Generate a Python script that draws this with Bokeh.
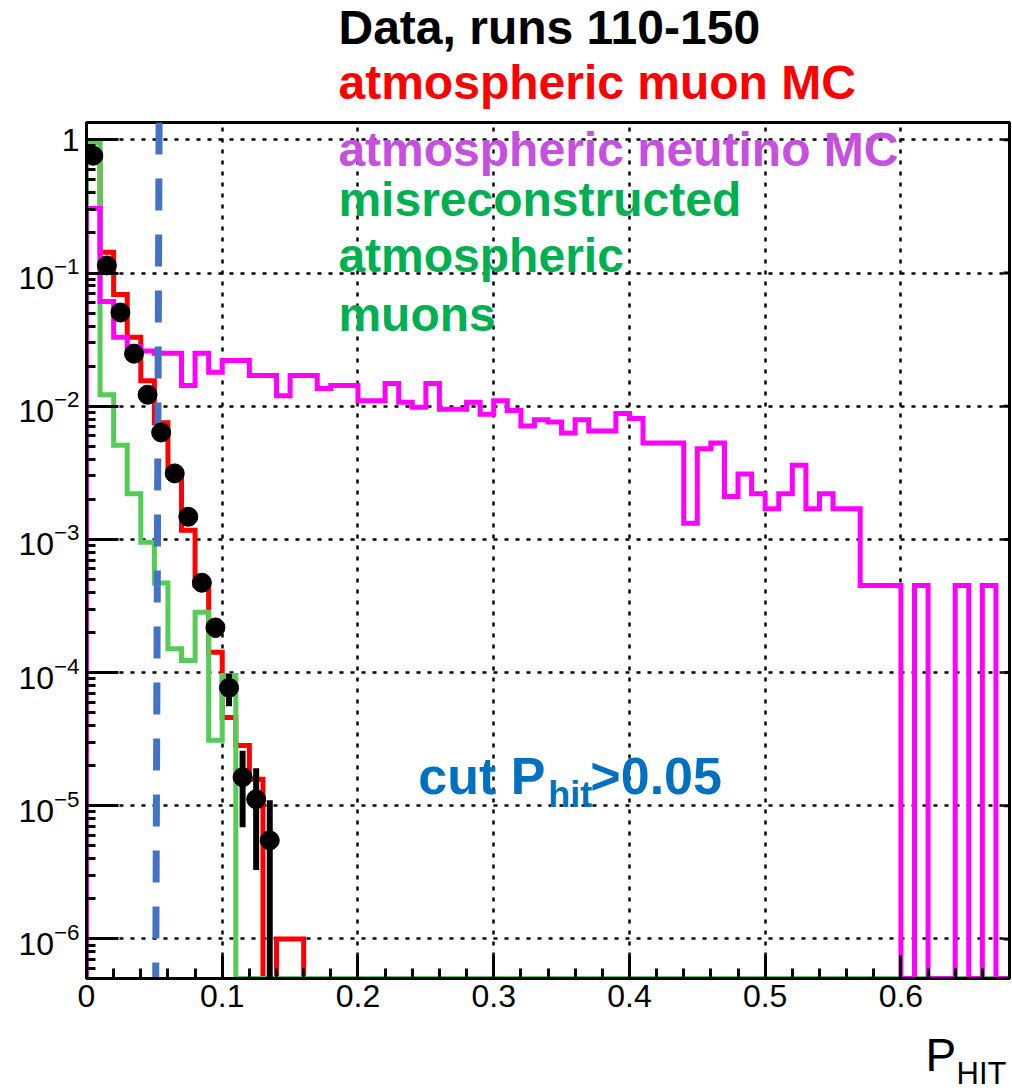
import numpy as np
from bokeh.plotting import figure
from bokeh.layouts import column
from bokeh.models import Range1d, FixedTicker, Label, LogTickFormatter
from bokeh.core.properties import value
from bokeh.embed import file_html
from bokeh.resources import INLINE

# ---------------- data ----------------
bin_edges = [round(0.01 * i, 2) for i in range(69)]  # 68 bins of width 0.01

nu_mc = [0.305, 0.061, 0.033, 0.028, 0.026, 0.025, 0.025, 0.0143, 0.025, 0.018,
         0.022, 0.022, 0.017, 0.017, 0.012, 0.017, 0.017, 0.0136, 0.0143, 0.0143,
         0.011, 0.011, 0.0148, 0.0107, 0.0098, 0.0148, 0.0095, 0.0095, 0.0107, 0.0087,
         0.011, 0.0093, 0.0071, 0.0079, 0.0076, 0.0063, 0.0079, 0.0065, 0.0065, 0.0088,
         0.0081, 0.0053, 0.0053, 0.0053, 0.00132, 0.0048, 0.0053, 0.0021, 0.0031, 0.0022,
         0.0017, 0.0022, 0.0036, 0.0017, 0.0022, 0.0017, 0.0017, 0.00045, 0.00045, 0.00045,
         0, 0.00045, 0, 0, 0.00045, 0, 0.00045, 0]

mu_mc = [0.8, 0.143, 0.069, 0.033, 0.0155, 0.0075, 0.0031, 0.00117, 0.00045, 0.000142,
         4.6e-5, 2.84e-5, 1.58e-5, 0, 1.0e-6, 1.0e-6] + [0] * 52

misreco = [0.95, 0.0122, 0.0051, 0.0022, 0.00095, 0.00047, 0.000151, 0.000123, 0.000284, 3.1e-5,
           9.5e-5] + [0] * 57

data_x = [0.005, 0.015, 0.025, 0.035, 0.045, 0.055, 0.065, 0.075, 0.085, 0.095,
          0.105, 0.115, 0.125, 0.135]
data_y = [0.76, 0.114, 0.0505, 0.0248, 0.0122, 0.00635, 0.00313, 0.00148, 0.000473, 0.000218,
          7.7e-5, 1.64e-5, 1.12e-5, 5.5e-6]
data_err = [0.002, 0.0008, 0.0005, 0.00037, 0.00026, 0.00019, 0.00013, 9e-5, 5e-5, 3.5e-5,
            2.1e-5, 9.5e-6, 7.9e-6, 5.5e-6]

cut_x = [0.0535, 0.0510]          # dashed cut line (top, bottom)

x_ticks = [0, 0.1, 0.2, 0.3, 0.4, 0.5, 0.6]
x_tick_labels = ["0", "0.1", "0.2", "0.3", "0.4", "0.5", "0.6"]
y_ticks = [1, 1e-1, 1e-2, 1e-3, 1e-4, 1e-5, 1e-6]

legend_top = ["Data, runs 110-150", "atmospheric muon MC"]
legend_top_colors = ["#000000", "#FF0000"]
legend_in = ["atmospheric neutino MC", "misreconstructed", "atmospheric", "muons"]
legend_in_colors = ["#C64FE0", "#00B050", "#00B050", "#00B050"]

X_MIN, X_MAX = 0.0, 0.68
Y_MIN, Y_MAX = 5.05e-7, 1.349
FONT = "Liberation Sans"
W = 1012
BL, BR = 86, 3          # left / right borders (frame spans BL .. W-BR)
TOP_H, BOT_H = 118, 64

# ---------------- main figure ----------------
p = figure(frame_width=W - BL - BR, frame_height=856,
           x_range=Range1d(X_MIN, X_MAX), y_range=Range1d(Y_MIN, Y_MAX),
           y_axis_type="log", output_backend="svg", toolbar_location=None,
           min_border_left=BL, min_border_right=BR, min_border_top=4, min_border_bottom=50)
p.background_fill_color = "white"
p.border_fill_color = "white"
p.outline_line_color = "black"
p.outline_line_width = 3

xa = p.xaxis[0]
xa.ticker = FixedTicker(ticks=x_ticks, minor_ticks=[round(0.02 * i, 2) for i in range(35)])
xa.major_label_overrides = {t: l for t, l in zip(x_ticks, x_tick_labels)}
xa.major_tick_in = 23
xa.major_tick_out = 0
xa.minor_tick_in = 10
xa.minor_tick_out = 0
xa.major_tick_line_width = 3
xa.minor_tick_line_width = 3
xa.axis_line_width = 3
xa.major_label_text_font = FONT
xa.major_label_text_font_size = "32px"
xa.major_label_standoff = 6
xa.major_label_text_color = "black"

minor_y = [m * 10.0 ** k for k in range(-7, 1) for m in range(2, 10)]
ya = p.yaxis[0]
ya.ticker = FixedTicker(ticks=y_ticks, minor_ticks=minor_y)
ya.formatter = LogTickFormatter(min_exponent=1)
ya.major_tick_in = 32
ya.major_tick_out = 0
ya.minor_tick_in = 9
ya.minor_tick_out = 0
ya.major_tick_line_width = 3
ya.minor_tick_line_width = 3
ya.axis_line_width = 3
ya.major_label_text_font = FONT
ya.major_label_text_font_size = "32px"
ya.major_label_standoff = 7
ya.major_label_text_color = "black"

for g in (p.xgrid[0], p.ygrid[0]):
    g.grid_line_color = "black"
    g.grid_line_dash = "4 7"
    g.grid_line_width = 2.5

# right-frame decade ticks
p.segment(x0=[X_MAX] * len(y_ticks), y0=y_ticks, x1=[X_MAX - 0.0045] * len(y_ticks), y1=y_ticks,
          line_color="black", line_width=3)


def step_path(edges, vals, floor):
    xs, ys = [edges[0]], [floor]
    for i, v in enumerate(vals):
        vv = v if v > 0 else floor
        xs += [edges[i], edges[i + 1]]
        ys += [vv, vv]
    xs.append(edges[-1])
    ys.append(floor)
    return xs, ys


for vals, col in ((mu_mc, "#FF0000"), (misreco, "#55CC55"), (nu_mc, "#FF00FF")):
    xs, ys = step_path(bin_edges, vals, Y_MIN)
    p.line(xs, ys, line_color=col, line_width=5, line_join="miter")

p.line(cut_x, [Y_MAX, Y_MIN], line_color="#4472C4", line_width=7, line_dash="32 24")

lo = [max(y - e, Y_MIN) for y, e in zip(data_y, data_err)]
hi = [y + e for y, e in zip(data_y, data_err)]
p.segment(x0=data_x, y0=lo, x1=data_x, y1=hi, line_color="black", line_width=6)
p.scatter(data_x, data_y, size=19, color="black")

# legend lines inside the frame
LEG_FS = 48
shift = 0.37 * LEG_FS
for txt, col, off in zip(legend_in, legend_in_colors, [-27.5, -77.7, -133.7, -192.7]):
    p.add_layout(Label(x=0.1856, y=1.0, y_offset=off + shift, text=txt, text_color=col,
                       text_align="left", text_baseline="alphabetic", text_font=FONT,
                       text_font_size=f"{LEG_FS}px", text_font_style="bold"))

# cut annotation
CUT_COL = "#0070C0"
p.add_layout(Label(x=0.2445, y=1e-5, y_offset=10.7 + 0.37 * 52, text="cut P", text_color=CUT_COL,
                   text_align="left", text_baseline="alphabetic", text_font=FONT,
                   text_font_size="52px", text_font_style="bold"))
p.add_layout(Label(x=0.2445, y=1e-5, x_offset=130, y_offset=-2.3 + 0.37 * 36, text="hit",
                   text_color=CUT_COL, text_align="left", text_baseline="alphabetic",
                   text_font=FONT, text_font_size="36px", text_font_style="bold"))
p.add_layout(Label(x=0.2445, y=1e-5, x_offset=172, y_offset=10.7 + 0.37 * 52, text=">0.05",
                   text_color=CUT_COL, text_align="left", text_baseline="alphabetic",
                   text_font=FONT, text_font_size="52px", text_font_style="bold"))


def strip(height):
    f = figure(width=W, height=height, x_range=Range1d(BL, W - BR), y_range=Range1d(height, 0),
               output_backend="svg", toolbar_location=None,
               min_border_left=BL, min_border_right=BR, min_border_top=0, min_border_bottom=0,
               x_axis_location=None, y_axis_location=None)
    f.outline_line_color = None
    f.grid.visible = False
    f.background_fill_color = "white"
    f.border_fill_color = "white"
    return f


# ---------------- top strip (legend lines above the frame) ----------------
top = strip(TOP_H)
for txt, col, base in zip(legend_top, legend_top_colors, [45, 100]):
    top.text(x=[338], y=[base - shift], text=[txt], text_color=col, text_font=value(FONT),
             text_font_size=f"{LEG_FS}px", text_font_style="bold", text_baseline="alphabetic")

# ---------------- bottom strip (axis title P_HIT) ----------------
bot = strip(BOT_H)
bot.text(x=[925], y=[44 - 0.37 * 46], text=["P"], text_color="black", text_font=value(FONT),
         text_font_size="46px", text_baseline="alphabetic")
bot.text(x=[956], y=[56 - 0.37 * 31], text=["HIT"], text_color="black", text_font=value(FONT),
         text_font_size="31px", text_baseline="alphabetic")

layout = column(top, p, bot, spacing=0)
open("out.html", "w").write(file_html(layout, INLINE))
